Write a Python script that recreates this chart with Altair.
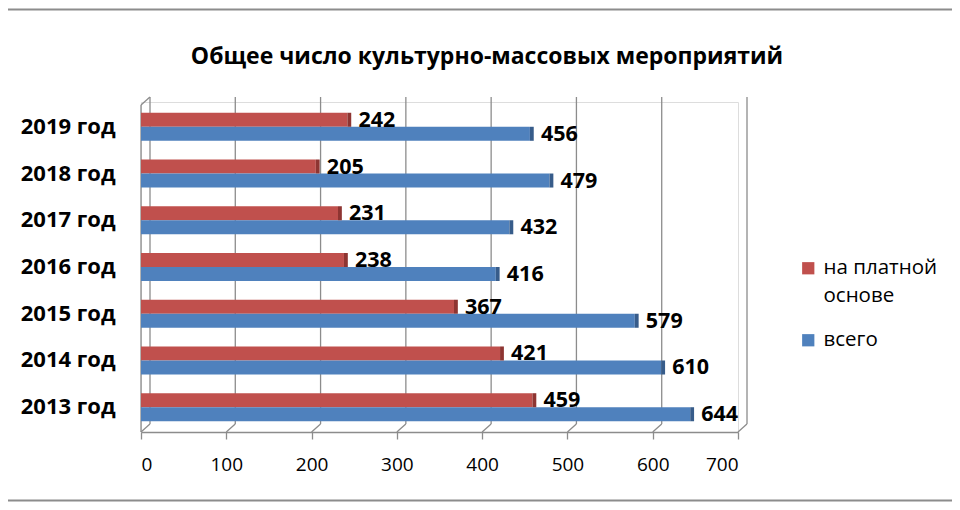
import altair as alt
import pandas as pd

years = ["2019 год", "2018 год", "2017 год\u00a0", "2016 год", "2015 год", "2014 год", "2013 год"]
paid = [242, 205, 231, 238, 367, 421, 459]
total = [456, 479, 432, 416, 579, 610, 644]
series = ["на платной основе", "всего"]
colors = ["#C0504D", "#4F81BD"]
dark = ["#8E3532", "#375C8A"]
ticks = [0, 100, 200, 300, 400, 500, 600, 700]
title_text = "Общее число культурно-массовых мероприятий"

rows = []
for y, p, t in zip(years, paid, total):
    rows.append({"year": y, "series": series[0], "value": p})
    rows.append({"year": y, "series": series[1], "value": t})
df = pd.DataFrame(rows)
tick_df = pd.DataFrame({"t": ticks})

W, H = 597, 330
FONT = "Open Sans"
GRID = "#8C8C8C"
XMAX = 700
DEPTH = 10.5  # 3D depth in data units

yenc = alt.Y("year:N", sort=years,
             scale=alt.Scale(paddingInner=0.4, paddingOuter=0.23),
             axis=alt.Axis(title=None, labelFont=FONT, labelFontSize=22, labelFontWeight="bold",
                           labelColor="#000", labelPadding=26, ticks=False, domain=False))
yoff = alt.YOffset("series:N", sort=series, scale=alt.Scale(paddingInner=0, paddingOuter=0))
xscale = alt.Scale(domain=[0, XMAX], nice=False)
X_AXIS = alt.Axis(values=ticks, title=None, grid=False, domainColor=GRID, domainWidth=1.3,
                  tickColor=GRID, tickWidth=1.3, tickSize=7, labelFont=FONT, labelFontSize=19,
                  labelColor="#000", labelPadding=16)


def xq(field):
    return alt.X(field, scale=xscale, axis=X_AXIS, title=None)


grid = alt.Chart(tick_df).mark_rule(color=GRID, strokeWidth=1.3).encode(
    x=alt.X("t:Q", scale=alt.Scale(domain=[0, XMAX], nice=False, range=[9, W + 9]), axis=None),
    y=alt.value(-5), y2=alt.value(H - 8))

floor = alt.Chart(tick_df).transform_calculate(t2=f"datum.t + {DEPTH}").mark_rule(
    color=GRID, strokeWidth=1.3).encode(
    x=xq("t:Q"), x2="t2:Q", y=alt.value(H), y2=alt.value(H - 8))

wall = alt.Chart(pd.DataFrame({"t": [0]})).transform_calculate(t2=f"datum.t + {DEPTH}").mark_rule(
    color=GRID, strokeWidth=1.3).encode(x=xq("t:Q"), x2="t2:Q", y=alt.value(3), y2=alt.value(-5))
wall_v = alt.Chart(pd.DataFrame({"t": [0]})).mark_rule(color=GRID, strokeWidth=1.3).encode(
    x=xq("t:Q"), y=alt.value(3), y2=alt.value(H))

bars = alt.Chart(df).mark_bar(opacity=1).encode(
    x=xq("value:Q"),
    y=yenc, yOffset=yoff,
    color=alt.Color("series:N", sort=series, scale=alt.Scale(domain=series, range=colors),
                    legend=alt.Legend(title=None, orient="none", legendX=657, legendY=156,
                                      symbolType="square", symbolSize=150, symbolStrokeWidth=0,
                                      labelFont=FONT, labelFontSize=20.5, labelColor="#000",
                                      labelLimit=400, labelOffset=5, rowPadding=23, padding=0,
                                      labelExpr="datum.label == 'на платной основе' ? ['на платной', 'основе'] : datum.label")))

caps = []
for s, c in zip(series, dark):
    caps.append(alt.Chart(df).transform_filter(alt.datum.series == s)
                .transform_calculate(v2="datum.value + 4.5")
                .mark_bar(color=c).encode(x=xq("value:Q"), x2="v2:Q", y=yenc, yOffset=yoff))

labels = alt.Chart(df).mark_text(align="left", baseline="middle", dx=11, dy=1, font=FONT,
                                 fontSize=21.5, fontWeight="bold", color="#000").encode(
    x=xq("value:Q"), y=yenc, yOffset=yoff, text="value:Q")

title = alt.Chart(pd.DataFrame({"title": [title_text]})).mark_text(
    align="center", baseline="middle", font=FONT, fontSize=23, fontWeight="bold", color="#000"
).encode(x=alt.value(346), y=alt.value(-45), text="title:N")

border_top = alt.Chart(pd.DataFrame({"b": [0]})).mark_rule(color=GRID, strokeWidth=2).encode(
    x=alt.value(-133), x2=alt.value(811), y=alt.value(-92.5))
border_bot = alt.Chart(pd.DataFrame({"b": [1]})).mark_rule(color=GRID, strokeWidth=2).encode(
    x=alt.value(-133), x2=alt.value(811), y=alt.value(398.5))

inner = alt.layer(floor, wall, wall_v, bars, *caps, labels)

chart = alt.layer(grid, inner, title, border_top, border_bot).resolve_scale(x="independent").properties(
    width=W, height=H,
    autosize=alt.AutoSizeParams(type="none"),
    padding={"left": 133, "top": 94, "right": 214, "bottom": 70},
).configure_view(stroke=None).configure(background="white", style={"guide-label": {"lineHeight": 28}})

chart.save("out.html", embed_options={"renderer": "svg", "actions": False})
